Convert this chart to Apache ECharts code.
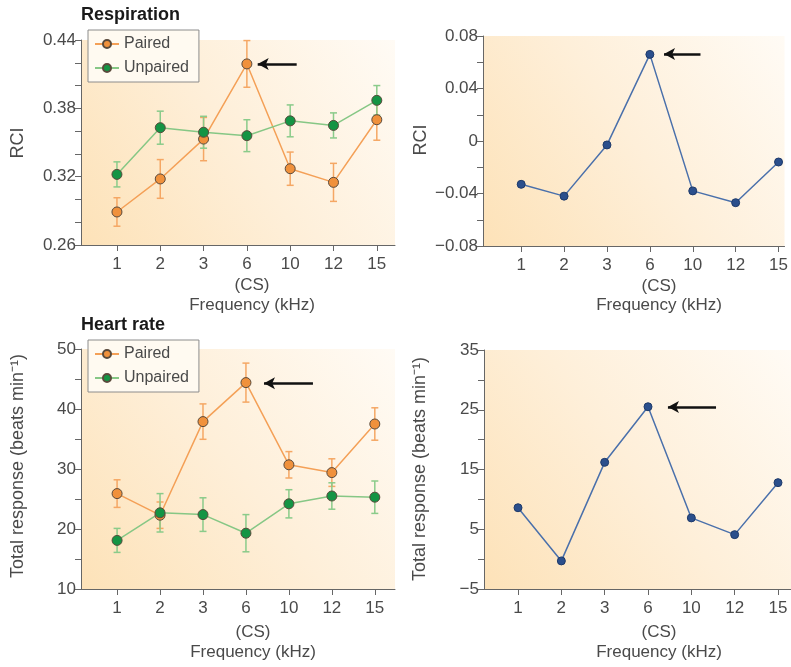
<!DOCTYPE html>
<html>
<head>
<meta charset="utf-8">
<script src="https://cdn.jsdelivr.net/npm/echarts@6/dist/echarts.min.js"></script>
<style>
  html, body { margin: 0; padding: 0; background: #fff; }
  #chart { width: 791px; height: 667px; }
</style>
</head>
<body>
<div id="chart"></div>
<script>
// frequency categories (kHz), 6 kHz is the CS
var freqLabels = ["1", "2", "3", "6", "10", "12", "15"];
var xPos = [1, 2, 3, 4, 5, 6, 7];

// respiration (RCI)
var respPaired = [0.289, 0.318, 0.353, 0.419, 0.327, 0.315, 0.370];
var respPairedErr = [0.0125, 0.017, 0.019, 0.0205, 0.0146, 0.0167, 0.018];
var respUnpaired = [0.322, 0.363, 0.359, 0.356, 0.369, 0.365, 0.387];
var respUnpairedErr = [0.011, 0.0145, 0.014, 0.014, 0.014, 0.011, 0.013];
var respDiff = [-0.033, -0.042, -0.003, 0.066, -0.038, -0.047, -0.016];

// heart rate (beats/min)
var hrPaired = [25.9, 22.3, 37.9, 44.4, 30.7, 29.4, 37.5];
var hrPairedErr = [2.3, 2.2, 2.95, 3.25, 2.2, 2.3, 2.7];
var hrUnpaired = [18.1, 22.7, 22.4, 19.3, 24.2, 25.5, 25.3];
var hrUnpairedErr = [2.0, 3.2, 2.8, 3.1, 2.35, 2.2, 2.7];
var hrDiff = [8.6, -0.3, 16.2, 25.5, 6.9, 4.1, 12.8];

// axis ticks / labels
var respTicks = [0.26, 0.28, 0.30, 0.32, 0.34, 0.36, 0.38, 0.40, 0.42, 0.44];
var respLabels = [0.26, 0.32, 0.38, 0.44];
var rdTicks = [-0.08, -0.06, -0.04, -0.02, 0, 0.02, 0.04, 0.06, 0.08];
var rdLabels = [-0.08, -0.04, 0, 0.04, 0.08];
var hrTicks = [10, 15, 20, 25, 30, 35, 40, 45, 50];
var hrLabels = [10, 20, 30, 40, 50];
var hdTicks = [-5, 0, 5, 10, 15, 20, 25, 30, 35];
var hdLabels = [-5, 5, 15, 25, 35];

// arrows pointing at the CS peak: [xFrom, xTo, y]
var arrows = [[5.15, 4.25, 0.419], [5.18, 4.33, 0.0663], [5.56, 4.42, 44.3], [5.57, 4.46, 25.46]];

var FONT = "Liberation Sans";
var axisCol = "#666";
var labelCol = "#4a4a4a";

var chart = echarts.init(document.getElementById("chart"));

function bg() {
  return new echarts.graphic.LinearGradient(0, 1, 1, 0, [
    { offset: 0, color: "#fde2b8" },
    { offset: 0.5, color: "#feefd9" },
    { offset: 1, color: "#fffbf5" }
  ]);
}

function minus(s) { return String(s).replace("-", "\u2212"); }

function xAxisOf(i, min, max) {
  return {
    type: "value", gridIndex: i, min: min, max: max,
    splitLine: { show: false },
    axisLine: { show: true, onZero: false, lineStyle: { color: axisCol, width: 1 } },
    axisTick: { show: true, length: 6, lineStyle: { color: axisCol }, customValues: xPos },
    axisLabel: {
      customValues: xPos, margin: 11, color: labelCol, fontSize: 17, fontFamily: FONT,
      formatter: function (v) { return freqLabels[Math.round(v) - 1]; }
    }
  };
}

function yAxisOf(i, min, max, ticks, labels, fmt) {
  return {
    type: "value", gridIndex: i, min: min, max: max,
    splitLine: { show: false },
    axisLine: { show: true, onZero: false, lineStyle: { color: axisCol, width: 1 } },
    axisTick: { show: true, length: 6, lineStyle: { color: axisCol }, customValues: ticks },
    axisLabel: { customValues: labels, margin: 5, color: labelCol, fontSize: 17, fontFamily: FONT, formatter: fmt }
  };
}

function errSeries(name, vals, errs, color, idx) {
  return {
    type: "custom", name: name, xAxisIndex: idx, yAxisIndex: idx, silent: true,
    data: vals.map(function (v, k) { return [xPos[k], v, errs[k]]; }),
    encode: { x: 0, y: 1 },
    renderItem: function (params, api) {
      var x = api.value(0), y = api.value(1), e = api.value(2);
      var top = api.coord([x, y + e]);
      var bot = api.coord([x, y - e]);
      var hw = 3.5;
      var st = { stroke: color, lineWidth: 1.5 };
      return {
        type: "group",
        children: [
          { type: "line", shape: { x1: top[0], y1: top[1], x2: bot[0], y2: bot[1] }, style: st },
          { type: "line", shape: { x1: top[0] - hw, y1: top[1], x2: top[0] + hw, y2: top[1] }, style: st },
          { type: "line", shape: { x1: bot[0] - hw, y1: bot[1], x2: bot[0] + hw, y2: bot[1] }, style: st }
        ]
      };
    }
  };
}

function lineSeries(name, vals, lineCol, dotCol, size, idx, borderCol) {
  return {
    type: "line", name: name, xAxisIndex: idx, yAxisIndex: idx,
    data: vals.map(function (v, k) { return [xPos[k], v]; }),
    symbol: "circle", symbolSize: size,
    lineStyle: { color: lineCol, width: 1.5 },
    itemStyle: { color: dotCol, borderColor: borderCol || "#5a4a3c", borderWidth: 1 },
    animation: false
  };
}

function arrowSeries(idx, a) {
  return {
    type: "line", name: "arrow" + idx, xAxisIndex: idx, yAxisIndex: idx, data: [],
    markLine: {
      silent: true, animation: false,
      symbol: ["none", "arrow"], symbolSize: [9, 11],
      label: { show: false },
      lineStyle: { color: "#111", width: 2.5, type: "solid" },
      data: [[{ coord: [a[0], a[2]] }, { coord: [a[1], a[2]] }]]
    }
  };
}

function legendAt(top) {
  return {
    data: ["Paired", "Unpaired"], orient: "vertical", left: 88, top: top,
    padding: [6, 10, 6, 6], itemGap: 8, itemWidth: 24, itemHeight: 10,
    backgroundColor: "#fffaf1", borderColor: "#8c8c8c", borderWidth: 1,
    textStyle: { fontSize: 16, color: labelCol, fontFamily: FONT },
    selectedMode: false
  };
}

function txt(x, y, s, opts) {
  var o = {
    type: "text", x: x, y: y, silent: true,
    style: { text: s, fontSize: 17, fontFamily: FONT, fill: labelCol, align: "center", verticalAlign: "middle" }
  };
  if (opts && opts.rot) { o.rotation = Math.PI / 2; o.style.fontSize = 18; }
  if (opts && opts.bold) { o.style.fontWeight = "bold"; o.style.fill = "#1a1a1a"; o.style.fontSize = 18; o.style.align = "left"; }
  return o;
}

var orangeLine = "#f4a057", orangeDot = "#f0913c", orangeErr = "#f5a764";
var greenLine = "#86c785", greenDot = "#149444", greenErr = "#8acb8a";
var blueLine = "#4a70ab", blueDot = "#2b4f8c";

var option = {
  animation: false,
  backgroundColor: "#fff",
  grid: [
    { left: 81, top: 40, width: 314, height: 205, show: true, backgroundColor: bg(), borderWidth: 0 },
    { left: 483, top: 36, width: 308, height: 210, show: true, backgroundColor: bg(), borderWidth: 0 },
    { left: 81, top: 349, width: 314, height: 240, show: true, backgroundColor: bg(), borderWidth: 0 },
    { left: 484, top: 350, width: 307, height: 239, show: true, backgroundColor: bg(), borderWidth: 0 }
  ],
  xAxis: [
    xAxisOf(0, 0.17, 7.42),
    xAxisOf(1, 0.11, 7.14),
    xAxisOf(2, 0.16, 7.47),
    xAxisOf(3, 0.215, 7.3)
  ],
  yAxis: [
    yAxisOf(0, 0.26, 0.44, respTicks, respLabels, function (v) { return v.toFixed(2); }),
    yAxisOf(1, -0.08, 0.08, rdTicks, rdLabels, function (v) { return Math.abs(v) < 1e-9 ? "0" : minus(v.toFixed(2)); }),
    yAxisOf(2, 10, 50, hrTicks, hrLabels, function (v) { return String(v); }),
    yAxisOf(3, -5, 35, hdTicks, hdLabels, function (v) { return minus(v); })
  ],
  legend: [legendAt(30), legendAt(340)],
  series: [
    errSeries("Paired err", respPaired, respPairedErr, orangeErr, 0),
    errSeries("Unpaired err", respUnpaired, respUnpairedErr, greenErr, 0),
    lineSeries("Paired", respPaired, orangeLine, orangeDot, 10, 0),
    lineSeries("Unpaired", respUnpaired, greenLine, greenDot, 10, 0),
    arrowSeries(0, arrows[0]),

    lineSeries("RCI diff", respDiff, blueLine, blueDot, 8, 1, "#1e3a6a"),
    arrowSeries(1, arrows[1]),

    errSeries("Paired err", hrPaired, hrPairedErr, orangeErr, 2),
    errSeries("Unpaired err", hrUnpaired, hrUnpairedErr, greenErr, 2),
    lineSeries("Paired", hrPaired, orangeLine, orangeDot, 10, 2),
    lineSeries("Unpaired", hrUnpaired, greenLine, greenDot, 10, 2),
    arrowSeries(2, arrows[2]),

    lineSeries("HR diff", hrDiff, blueLine, blueDot, 8, 3, "#1e3a6a"),
    arrowSeries(3, arrows[3])
  ],
  graphic: [
    txt(81, 15, "Respiration", { bold: true }),
    txt(81, 325, "Heart rate", { bold: true }),
    txt(18, 143, "RCI", { rot: true }),
    txt(421, 140, "RCI", { rot: true }),
    txt(18, 466, "Total response (beats min\u207B\u00B9)", { rot: true }),
    txt(420, 469, "Total response (beats min\u207B\u00B9)", { rot: true }),
    txt(252, 285, "(CS)"), txt(252, 305, "Frequency (kHz)"),
    txt(659, 286, "(CS)"), txt(659, 305, "Frequency (kHz)"),
    txt(253, 632, "(CS)"), txt(253, 652, "Frequency (kHz)"),
    txt(659, 632, "(CS)"), txt(659, 652, "Frequency (kHz)")
  ]
};

chart.setOption(option);
</script>
</body>
</html>
